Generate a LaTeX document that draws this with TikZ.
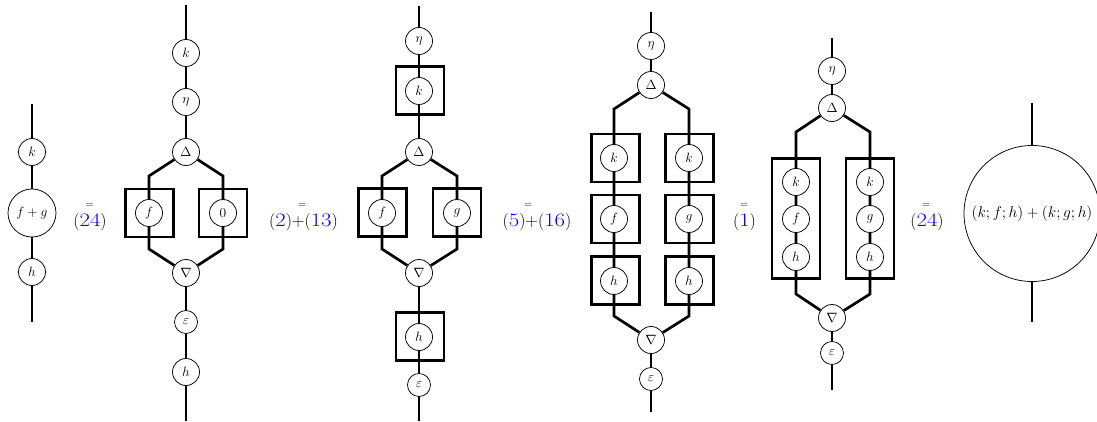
\RequirePackage{fix-cm}
\documentclass[tikz,border=0pt]{standalone}
\usepackage{graphicx}
\usetikzlibrary{backgrounds}
\definecolor{refblue}{RGB}{0,0,255}
\newcommand\bnum[1]{\textcolor{refblue}{\fontsize{19}{21}\selectfont\scalebox{1.2}[1]{#1}}}
\tikzset{
  wire/.style={line width=2.7pt},
  gen/.style={circle, draw, line width=0.75pt, fill=white, minimum size=27pt, inner sep=0pt, font=\fontsize{13.5}{15}\selectfont},
  smallgen/.style={gen, minimum size=23pt},
  biggen/.style={gen, minimum size=48pt},
  hugegen/.style={gen, minimum size=136pt, font=\fontsize{15.5}{18}\selectfont},
  boxnode/.style={draw, line width=2.7pt, minimum width=48pt, minimum height=48pt, inner sep=0pt},
  eqlab/.style={font=\fontsize{17.5}{20}\selectfont, inner sep=0pt},
  eqsign/.style={font=\fontsize{11}{12}\selectfont, inner sep=0pt},
}
\begin{document}
\begin{tikzpicture}[x=1pt,y=-1pt]
\useasboundingbox (0,0) rectangle (1097,422);

% ---------- diagram 1
\coordinate (t1) at (32,104);
\coordinate (b1) at (32,322);
\node[gen] (k1) at (32,152) {$k$};
\node[biggen] (fg1) at (32,213) {$f+g$};
\node[gen] (h1) at (32,272) {$h$};
\begin{scope}[on background layer]
\draw[wire] (t1) -- (k1) -- (fg1) -- (h1) -- (b1);
\end{scope}

% ---------- diagram 2
\coordinate (t2) at (186,5);
\coordinate (b2) at (186,421);
\coordinate (l2a) at (149,176);
\coordinate (r2a) at (223,176);
\coordinate (l2b) at (149,249);
\coordinate (r2b) at (223,249);
\node[boxnode] (bf2) at (149.5,213) {};
\node[boxnode] (bz2) at (223,213) {};
\node[gen] (k2) at (186,53) {$k$};
\node[gen] (eta2) at (186,102) {$\eta$};
\node[gen] (D2) at (186,152) {$\Delta$};
\node[gen] (f2) at (149,213) {$f$};
\node[gen] (z2) at (223,213) {$0$};
\node[gen] (N2) at (186,273) {$\nabla$};
\node[smallgen] (e2) at (186,322) {$\varepsilon$};
\node[gen] (h2) at (186,372) {$h$};
\begin{scope}[on background layer]
\draw[wire] (t2) -- (k2) -- (eta2) -- (D2);
\draw[wire] (D2) -- (l2a) -- (f2) -- (l2b) -- (N2);
\draw[wire] (D2) -- (r2a) -- (z2) -- (r2b) -- (N2);
\draw[wire] (N2) -- (e2) -- (h2) -- (b2);
\end{scope}

% ---------- diagram 3
\coordinate (t3) at (419,6);
\coordinate (b3) at (419,421);
\coordinate (l3a) at (382,176);
\coordinate (r3a) at (457,176);
\coordinate (l3b) at (382,249);
\coordinate (r3b) at (457,249);
\node[boxnode] (bk3) at (420,90.5) {};
\node[boxnode] (bf3) at (382.5,212.5) {};
\node[boxnode] (bg3) at (457,212.5) {};
\node[boxnode] (bh3) at (420,336.5) {};
\node[gen] (eta3) at (419,41) {$\eta$};
\node[gen] (k3) at (419,91) {$k$};
\node[gen] (D3) at (419,152) {$\Delta$};
\node[gen] (f3) at (382,213) {$f$};
\node[gen] (g3) at (457,213) {$g$};
\node[gen] (N3) at (419,273) {$\nabla$};
\node[gen] (h3) at (419,337) {$h$};
\node[smallgen] (e3) at (419,385) {$\varepsilon$};
\begin{scope}[on background layer]
\draw[wire] (t3) -- (eta3) -- (k3) -- (D3);
\draw[wire] (D3) -- (l3a) -- (f3) -- (l3b) -- (N3);
\draw[wire] (D3) -- (r3a) -- (g3) -- (r3b) -- (N3);
\draw[wire] (N3) -- (h3) -- (e3) -- (b3);
\end{scope}

% ---------- diagram 4
\coordinate (t4) at (651,12);
\coordinate (b4) at (651,412);
\coordinate (l4a) at (614,109);
\coordinate (r4a) at (689,109);
\coordinate (l4b) at (614,316);
\coordinate (r4b) at (689,316);
\node[boxnode] (bk4) at (615.5,158) {};
\node[boxnode] (bf4) at (615.5,219) {};
\node[boxnode] (bh4) at (615.5,280.5) {};
\node[boxnode] (bk4r) at (689.5,158) {};
\node[boxnode] (bg4r) at (689.5,219) {};
\node[boxnode] (bh4r) at (689.5,280.5) {};
\node[gen] (eta4) at (651,46) {$\eta$};
\node[gen] (D4) at (651,85) {$\Delta$};
\node[gen] (k4) at (614,158) {$k$};
\node[gen] (f4) at (614,219) {$f$};
\node[gen] (h4) at (614,281) {$h$};
\node[gen] (k4r) at (689,158) {$k$};
\node[gen] (g4r) at (689,219) {$g$};
\node[gen] (h4r) at (689,281) {$h$};
\node[gen] (N4) at (651,340) {$\nabla$};
\node[smallgen] (e4) at (651,379) {$\varepsilon$};
\begin{scope}[on background layer]
\draw[wire] (t4) -- (eta4) -- (D4);
\draw[wire] (D4) -- (l4a) -- (k4) -- (f4) -- (h4) -- (l4b) -- (N4);
\draw[wire] (D4) -- (r4a) -- (k4r) -- (g4r) -- (h4r) -- (r4b) -- (N4);
\draw[wire] (N4) -- (e4) -- (b4);
\end{scope}

% ---------- diagram 5
\coordinate (t5) at (832,38);
\coordinate (b5) at (832,390);
\coordinate (l5a) at (796,132);
\coordinate (r5a) at (870,132);
\coordinate (l5b) at (796,294);
\coordinate (r5b) at (870,294);
\node[boxnode, minimum height=120.5pt] (bl5) at (796,218.5) {};
\node[boxnode, minimum height=120.5pt] (br5) at (870,218.5) {};
\node[gen] (eta5) at (832,71) {$\eta$};
\node[gen] (D5) at (832,108) {$\Delta$};
\node[gen] (k5) at (796,182) {$k$};
\node[gen] (f5) at (796,219) {$f$};
\node[gen] (h5) at (796,257) {$h$};
\node[gen] (k5r) at (870,182) {$k$};
\node[gen] (g5r) at (870,219) {$g$};
\node[gen] (h5r) at (870,257) {$h$};
\node[gen] (N5) at (832,318) {$\nabla$};
\node[smallgen] (e5) at (832,353) {$\varepsilon$};
\begin{scope}[on background layer]
\draw[wire] (t5) -- (eta5) -- (D5);
\draw[wire] (D5) -- (l5a) -- (k5) -- (f5) -- (h5) -- (l5b) -- (N5);
\draw[wire] (D5) -- (r5a) -- (k5r) -- (g5r) -- (h5r) -- (r5b) -- (N5);
\draw[wire] (N5) -- (e5) -- (b5);
\end{scope}

% ---------- diagram 6
\coordinate (t6) at (1032,103);
\coordinate (b6) at (1032,322);
\node[hugegen] (big6) at (1032,213.5) {$(k;f;h)+(k;g;h)$};
\begin{scope}[on background layer]
\draw[wire] (t6) -- (big6) -- (b6);
\end{scope}

% ---------- equation labels
\node[eqlab] (lab1) at (90,222.5) {(\bnum{24})};
\node[eqsign] (eq1) at (89.5,205.5) {=};
\node[eqlab] (lab2) at (303.5,222.5) {(\bnum{2})+(\bnum{13})};
\node[eqsign] (eq2) at (302,205.5) {=};
\node[eqlab] (lab3) at (537,222.5) {(\bnum{5})+(\bnum{16})};
\node[eqsign] (eq3) at (528,205.5) {=};
\node[eqlab] (lab4) at (744.5,222.5) {(\bnum{1})};
\node[eqsign] (eq4) at (744,205.5) {=};
\node[eqlab] (lab5) at (927,222.5) {(\bnum{24})};
\node[eqsign] (eq5) at (926,205.5) {=};
\end{tikzpicture}
\end{document}
